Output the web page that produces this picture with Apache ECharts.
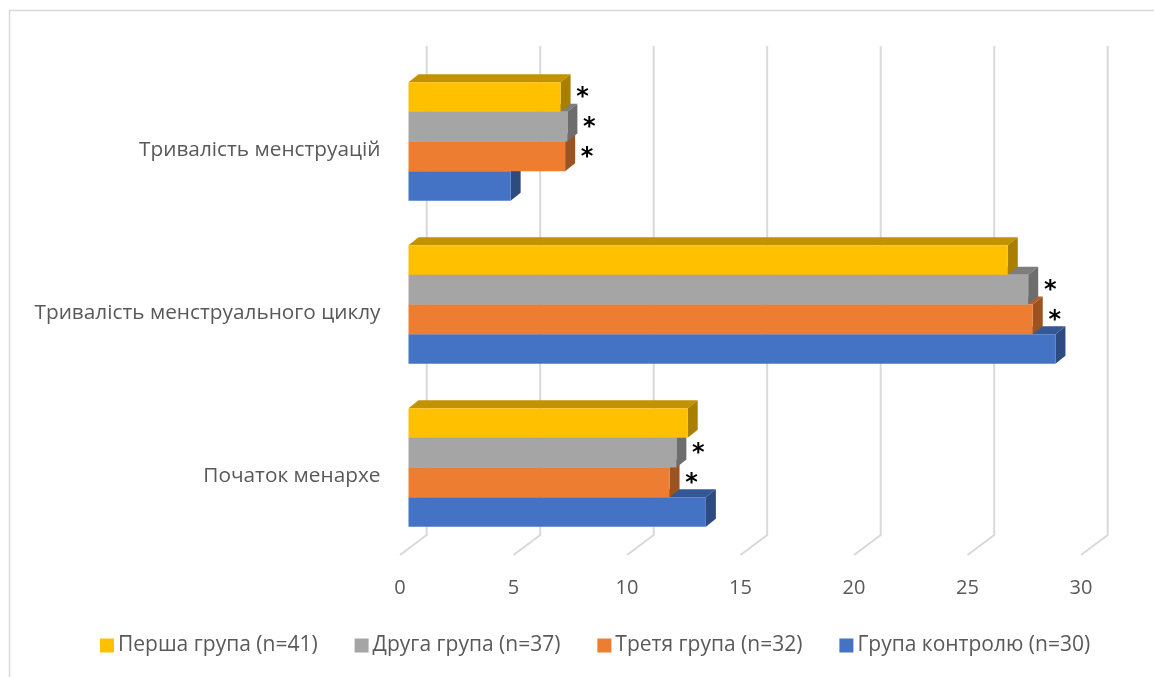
<!DOCTYPE html>
<html>
<head>
<meta charset="utf-8">
<title>Показники менструальної функції</title>
<script src="https://cdn.jsdelivr.net/npm/echarts@6/dist/echarts.min.js"></script>
<style>
  html, body { margin: 0; padding: 0; background: #ffffff; }
  #chart { width: 1154px; height: 677px; }
</style>
</head>
<body>
<div id="chart"></div>
<script>
// Categories (bottom to top) and group values
const categories = ['Початок менархе', 'Тривалість менструального циклу', 'Тривалість менструацій'];
const groupNames = ['Перша група (n=41)', 'Друга група (n=37)', 'Третя група (n=32)', 'Група контролю (n=30)'];
const firstGroup = [12.3, 26.4, 6.7];
const secondGroup = [11.8, 27.3, 7.0];
const thirdGroup = [11.5, 27.5, 6.9];
const controlGroup = [13.1, 28.5, 4.5];
// Significance marks shown next to bars
const firstMarks = ['', '', '*'];
const secondMarks = ['*', '*', '*'];
const thirdMarks = ['*', '*', '*'];
const controlMarks = ['', '', ''];
const axisTicks = [0, 5, 10, 15, 20, 25, 30];

const seriesValues = [firstGroup, secondGroup, thirdGroup, controlGroup];
const seriesMarks = [firstMarks, secondMarks, thirdMarks, controlMarks];
const colors = ['#FFC000', '#A5A5A5', '#ED7D31', '#4472C4'];

const FONT = '"Open Sans", sans-serif';
const TEXT = '#595959';
const GRID_LINE = '#D9D9D9';
const DEPTH_X = 10, DEPTH_Y = -8;        // bar depth projection
const FLOOR_X = -26.7, FLOOR_Y = 20;     // floor projection from back wall to front
const GROUP_FILL = 0.727;                // share of band used by a cluster

function shade(hex, f) {
  const n = parseInt(hex.slice(1), 16);
  const r = Math.round(((n >> 16) & 255) * f);
  const g = Math.round(((n >> 8) & 255) * f);
  const b = Math.round((n & 255) * f);
  return 'rgb(' + r + ',' + g + ',' + b + ')';
}

function barRenderer(k) {
  const color = colors[k];
  const marks = seriesMarks[k];
  return function (params, api) {
    const v = api.value(0);
    const cat = api.value(1);
    const start = api.coord([0, cat]);
    const end = api.coord([v, cat]);
    const band = api.size([0, 1])[1];
    const h = band * GROUP_FILL / 4;
    const y = start[1] - 2 * h + k * h;
    const x0 = start[0], x1 = end[0];
    const children = [
      { type: 'polygon', shape: { points: [[x0, y], [x0 + DEPTH_X, y + DEPTH_Y], [x1 + DEPTH_X, y + DEPTH_Y], [x1, y]] },
        style: { fill: shade(color, 0.76) } },
      { type: 'polygon', shape: { points: [[x1, y], [x1 + DEPTH_X, y + DEPTH_Y], [x1 + DEPTH_X, y + h + DEPTH_Y], [x1, y + h]] },
        style: { fill: shade(color, 0.66) } },
      { type: 'rect', shape: { x: x0, y: y, width: x1 - x0, height: h },
        style: { fill: color } }
    ];
    const mark = marks[params.dataIndex];
    if (mark) {
      children.push({ type: 'text', x: x1 + 22, y: y + h / 2 + 1,
        style: { text: mark, fill: '#000000', font: 'bold 24px "DejaVu Sans", sans-serif',
                 align: 'center', verticalAlign: 'middle' } });
    }
    return { type: 'group', children: children };
  };
}

function wallRenderer(params, api) {
  const v = api.value(0);
  const top = api.coord([v, 1]);
  const bottom = api.coord([v, 0]);
  return { type: 'polyline',
    shape: { points: [top, bottom, [bottom[0] + FLOOR_X, bottom[1] + FLOOR_Y]] },
    style: { stroke: GRID_LINE, lineWidth: 2, fill: null } };
}

const barSeries = seriesValues.map(function (vals, k) {
  return {
    type: 'custom',
    name: groupNames[k],
    xAxisIndex: 0, yAxisIndex: 0,
    z: 10 - k,
    itemStyle: { color: colors[k] },
    encode: { x: 0, y: 1 },
    renderItem: barRenderer(k),
    data: vals.map(function (v, i) { return [v, i]; })
  };
});

const chart = echarts.init(document.getElementById('chart'), null, { renderer: 'canvas' });
chart.setOption({
  backgroundColor: '#ffffff',
  animation: false,
  textStyle: { fontFamily: FONT },
  graphic: [{
    type: 'rect', silent: true,
    shape: { x: 9.5, y: 10.5, width: 1200, height: 720 },
    style: { fill: null, stroke: GRID_LINE, lineWidth: 1.5 }
  }],
  grid: [
    { left: 408.5, right: 64.5, top: 60, bottom: 128 },      // bars
    { left: 426.7, right: 46.3, top: 46, bottom: 142 },      // back wall
    { left: 400, right: 73, top: 540, bottom: 122 },         // floor front edge
    { left: 408.5, right: 64.5, top: 68.5, bottom: 119.5 }   // category names along the floor middle
  ],
  xAxis: [
    { type: 'value', gridIndex: 0, min: 0, max: 30, interval: 5, show: false },
    { type: 'value', gridIndex: 1, min: 0, max: 30, interval: 5, show: false },
    { type: 'value', gridIndex: 2, min: 0, max: 30, interval: 5,
      axisLine: { show: false }, axisTick: { show: false }, splitLine: { show: false },
      axisLabel: { color: TEXT, fontSize: 20, fontFamily: FONT, margin: 23,
                   formatter: function (v) { return axisTicks.indexOf(v) >= 0 ? String(v) : ''; } } },
    { type: 'value', gridIndex: 3, min: 0, max: 30, show: false }
  ],
  yAxis: [
    { type: 'category', gridIndex: 0, data: categories, show: false },
    { type: 'value', gridIndex: 1, min: 0, max: 1, show: false },
    { type: 'value', gridIndex: 2, min: 0, max: 1, show: false },
    { type: 'category', gridIndex: 3, data: categories,
      axisLine: { show: false }, axisTick: { show: false }, splitLine: { show: false },
      axisLabel: { color: TEXT, fontSize: 20.8, fontFamily: FONT, margin: 28 } }
  ],
  legend: {
    data: groupNames,
    left: 100, top: 635, padding: 0,
    icon: 'rect', itemWidth: 14, itemHeight: 14, itemGap: 37,
    textStyle: { color: TEXT, fontSize: 21, fontFamily: FONT, padding: [0, 0, 0, -1] }
  },
  series: [{
    type: 'custom',
    xAxisIndex: 1, yAxisIndex: 1,
    z: 1, silent: true,
    renderItem: wallRenderer,
    data: axisTicks.map(function (t) { return [t]; })
  }].concat(barSeries)
});
</script>
</body>
</html>
